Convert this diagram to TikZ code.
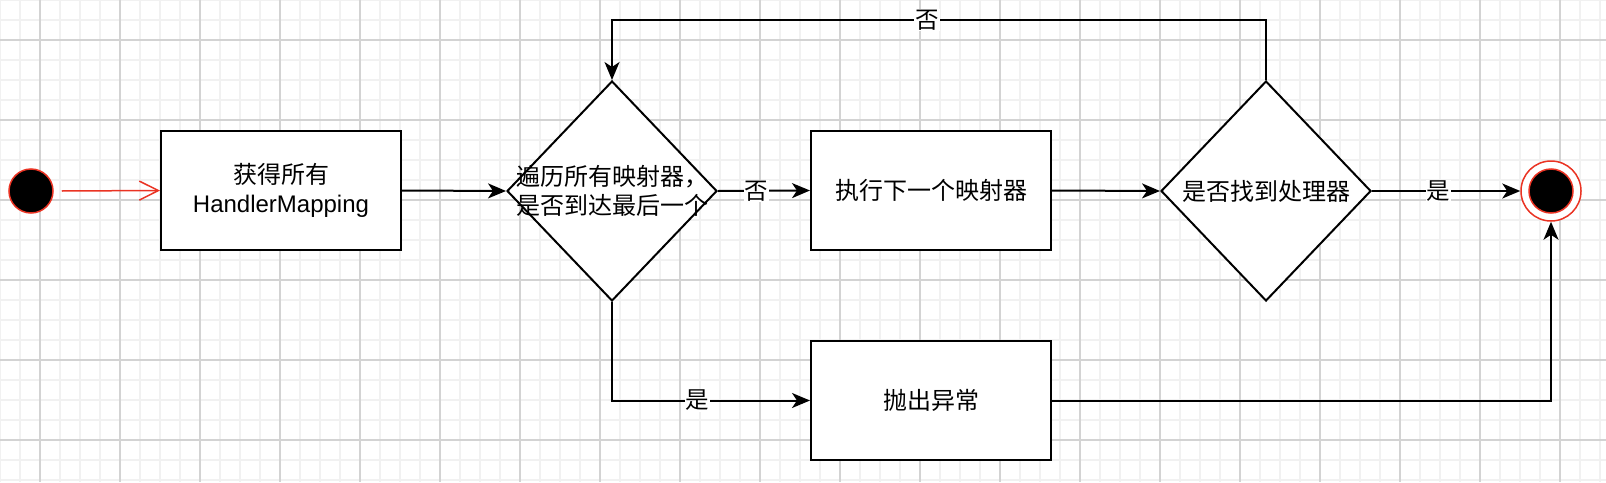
\documentclass[tikz,border=0pt]{standalone}
\usepackage{fontspec}
\setmainfont{Liberation Sans}
\newfontfamily\cjk{Noto Sans CJK SC}
\usetikzlibrary{arrows.meta,shapes.geometric}
\definecolor{gridminor}{HTML}{F1F1F1}
\definecolor{gridmajor}{HTML}{D3D3D3}
\definecolor{umlred}{HTML}{EA3323}
\tikzset{
  every node/.style={font=\fontsize{24}{29}\selectfont},
  box/.style={draw=black, line width=2pt, fill=white, minimum width=240pt, minimum height=119pt, inner sep=0pt, align=center},
  decision/.style={draw=black, line width=2pt, fill=white, diamond, aspect=0.9545, minimum width=210pt, minimum height=220pt, inner sep=0pt, align=center},
  flow/.style={draw=black, line width=2pt, -{Stealth[length=18pt,width=15pt,inset=5pt]}},
  lbl/.style={fill=white, inner sep=1pt, font=\cjk\fontsize{23.5}{28}\selectfont},
}
\begin{document}
\begin{tikzpicture}[x=1pt,y=-1pt]
\useasboundingbox (0,0) rectangle (1606,482);
\fill[white] (0,0) rectangle (1606,482);
% grid
\foreach \i in {0,20,...,1600} \draw[gridminor, line width=1.5pt] (\i,0) -- (\i,482);
\foreach \j in {0,20,...,480} \draw[gridminor, line width=1.5pt] (0,\j) -- (1606,\j);
\foreach \i in {40,120,...,1600} \draw[gridmajor, line width=1.2pt] (\i,0) -- (\i,482);
\foreach \j in {40,120,...,480} \draw[gridmajor, line width=1.2pt] (0,\j) -- (1606,\j);

% nodes
\node[circle, draw=umlred, fill=black, line width=1.5pt, minimum size=44pt, inner sep=0pt] (start) at (31,191) {};
\node[box] (get) at (281,190.5) {{\cjk 获得所有}\\HandlerMapping};
\node[decision] (loop) at (612,191) {};
\node[align=center, font=\cjk\fontsize{24}{29.5}\selectfont] (looptext) at (612,191) {遍历所有映射器，\\是否到达最后一个};
\node[box, font=\cjk\fontsize{24}{29}\selectfont] (next) at (931,190.5) {执行下一个映射器};
\node[decision] (found) at (1266,191) {};
\node[font=\cjk\fontsize{24}{29}\selectfont] (foundtext) at (1266,191) {是否找到处理器};
\node[box, font=\cjk\fontsize{24}{29}\selectfont] (throw) at (931,400.5) {抛出异常};
\node[circle, draw=umlred, fill=white, line width=1.5pt, minimum size=60pt, inner sep=0pt] (end) at (1551,191) {};
\node[circle, draw=umlred, fill=black, line width=1.5pt, minimum size=44pt, inner sep=0pt] (endin) at (1551,191) {};

% connectors
\coordinate (s0) at ([xshift=8pt]start.east);
\draw[umlred, line width=1.5pt, -{Straight Barb[length=19pt,width=19pt]}] (s0) -- (get.west);
\draw[flow] (get.east) -- (loop.west);
\draw[flow] (loop.east) -- node[lbl, pos=0.42] {否} (next.west);
\draw[flow] (next.east) -- (found.west);
\draw[flow] (found.east) -- node[lbl, pos=0.45] {是} (end.west);
\draw[flow] (found.north) -- ++(0,-60) -| node[lbl, pos=0.259] {否} (loop.north);
\draw[flow] (loop.south) |- node[lbl, pos=0.716] {是} (throw.west);
\draw[flow] (throw.east) -| (end.south);
\end{tikzpicture}
\end{document}
